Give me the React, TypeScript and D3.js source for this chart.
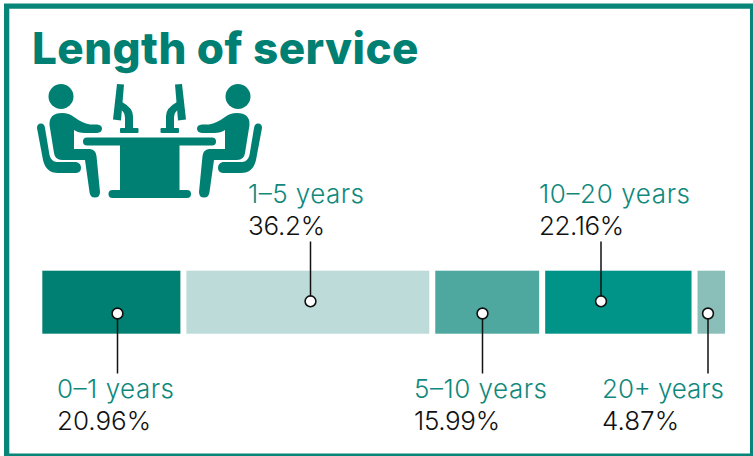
import React from "react";
import * as d3 from "d3";

const categories = ["0–1 years", "1–5 years", "5–10 years", "10–20 years", "20+ years"];
const shares = [20.96, 36.2, 15.99, 22.16, 4.87];
const shareLabels = ["20.96%", "36.2%", "15.99%", "22.16%", "4.87%"];
const barColors = ["#008072", "#bddbd8", "#4fa8a0", "#009488", "#8abfb9"];
const title = "Length of service";

const W = 753, H = 456, GAP = 6;
const BAR_T = 270.7, BAR_B = 333.7;
const TEAL = "#008072";
const LABEL = "#10897c";

const total = d3.sum(shares);
const cum = d3.cumsum(shares);
const x = d3.scaleLinear().domain([0, total]).range([42.3, 731]);
const font = "Inter, 'Liberation Sans', sans-serif";

const above = [false, true, false, true, false];
const textX = [57, 248, 414, 539, 602];
const dotX = [117.5, 310.5, 482.5, 601, 708];
const catWidths = [117, 116, 133, 151, 122];
const valWidths = [94, 77, 86, 85, 77];

function Person({ flip }: { flip: boolean }) {
  return (
    <g transform={flip ? "translate(299,0) scale(-1,1)" : undefined} fill={TEAL}>
      <circle cx={61} cy={96.5} r={12.5} />
      <path d="M49.5,125 Q49,113 62,113 Q69,113 74,117 Q82,123 90,124.5 L97,124.5 Q102,125 102,128.5 Q102,132.5 97,133 L85,133 Q78,133 74,130 L74,149 L90,149 Q96,150 96.500,156 L100,192 Q100,197.500 95,197.500 Q90,197.500 89.500,192 L85,160 L62,160 Q55,160 54,153 Z" />
      <path d="M37,128 Q37,123.500 41,123.500 Q44.500,123.500 45,128 L49.500,155 Q51,161.500 57,162 L76,162 Q81,163 81,168 Q81,172.500 76,173 L58,173 Q46,173 43,160 Z" />
      <path d="M117,84 L124,84.500 L121,120.500 L113,119.500 Z" />
      <path d="M122,102 Q133,108 133,116 L133,129 L125,129 L125,118 Q125,112 120,109 Z" />
      <rect x={120} y={128} width={18.500} height={5} rx={1} />
    </g>
  );
}

export default function App() {
  return (
    <svg width={W} height={H} style={{ position: "absolute", left: 0, top: 0, background: "#fff" }}>
      <path fillRule="evenodd" fill="#078578" d="M4,3.500 H753 V456 H4 Z M9.300,8.800 V453.500 H750 V8.800 Z" />
      <text x={32} y={64} fontFamily={font} fontWeight={800} fontSize={44} letterSpacing={0.42} fill={TEAL}>{title}</text>

      <g>
        <Person flip={false} />
        <Person flip={true} />
        <rect x={83} y={137.500} width={133} height={8} rx={4} fill={TEAL} />
        <rect x={120} y={140} width={59.500} height={50} fill={TEAL} />
        <rect x={108.500} y={190} width={82.500} height={8} rx={4} fill={TEAL} />
      </g>

      {shares.map((v, i) => {
        const x0 = x(i === 0 ? 0 : cum[i - 1]);
        const x1 = x(cum[i]) - GAP;
        return <rect key={categories[i]} x={x0} y={BAR_T} width={x1 - x0} height={BAR_B - BAR_T} fill={barColors[i]} />;
      })}

      {shares.map((_, i) => {
        const cy = above[i] ? 301.3 : 313.5;
        const y2 = above[i] ? 241.5 : 373.5;
        return (
          <g key={i}>
            <line x1={dotX[i]} x2={dotX[i]} y1={cy} y2={y2} stroke="#111" strokeWidth={1.5} />
            <circle cx={dotX[i]} cy={cy} r={5.4} fill="#fff" stroke="#111" strokeWidth={1.6} />
            <text x={textX[i]} y={above[i] ? 203 : 398} fontFamily={font} fontWeight={300} fontSize={26} textLength={catWidths[i]} fill={LABEL}>{categories[i]}</text>
            <text x={textX[i]} y={above[i] ? 235 : 430} fontFamily={font} fontWeight={300} fontSize={26} textLength={valWidths[i]} fill="#111">{shareLabels[i]}</text>
          </g>
        );
      })}
    </svg>
  );
}
